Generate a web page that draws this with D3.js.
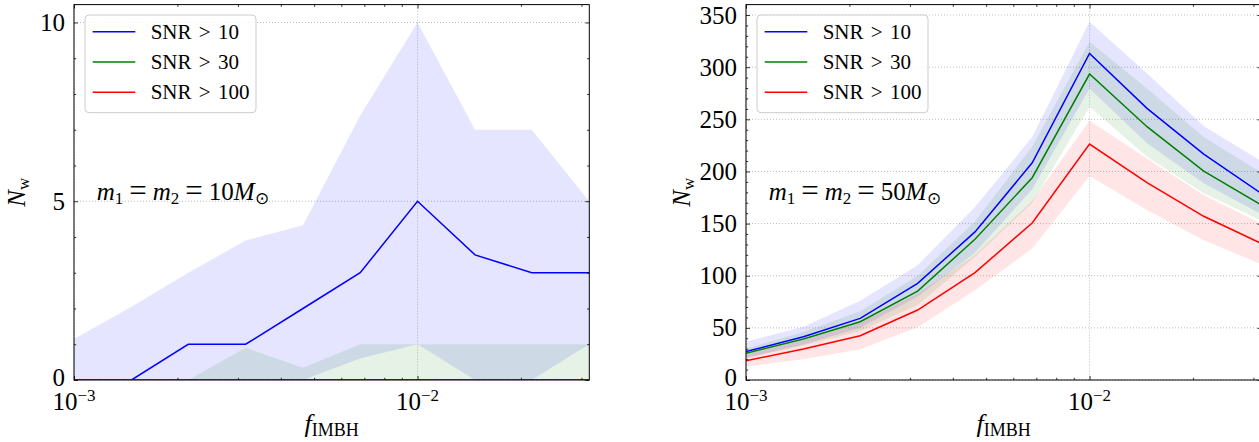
<!DOCTYPE html>
<html><head><meta charset="utf-8">
<script src="https://cdn.jsdelivr.net/npm/d3@7"></script>
<style>
html,body{margin:0;padding:0;background:#fff;}
svg{display:block;}
</style></head>
<body><svg id="c" width="1259" height="442"></svg>
<script>
// ---------- data ----------
const fIMBH = [0.001, 0.00147, 0.00215, 0.00316, 0.00464, 0.00681, 0.01, 0.0147, 0.0215, 0.0316];
const seriesNames = ["SNR > 10", "SNR > 30", "SNR > 100"];
const seriesColors = ["#0000ff", "#008000", "#ff0000"];

// left panel: m1 = m2 = 10 Msun
const left_snr10 = [0, 0, 1, 1, 2, 3, 5, 3.5, 3, 3];
const left_snr10_lo = [0, 0, 0, 0, 0, 0.6, 1, 0, 0, 1];
const left_snr10_hi = [1.15, 2.05, 3.0, 3.9, 4.33, 7.4, 10, 7, 7, 5];
const left_snr30 = [0, 0, 0, 0, 0, 0, 0, 0, 0, 0];
const left_snr30_lo = [0, 0, 0, 0, 0, 0, 0, 0, 0, 0];
const left_snr30_hi = [0, 0, 0, 0.9, 0.34, 1, 1, 1, 1, 1];
const left_snr100 = [0, 0, 0, 0, 0, 0, 0, 0, 0, 0];
const left_snr100_lo = [0, 0, 0, 0, 0, 0, 0, 0, 0, 0];
const left_snr100_hi = [0, 0, 0, 0, 0, 0, 0, 0, 0, 0];

// right panel: m1 = m2 = 50 Msun
const right_snr10 = [27.2, 41.5, 59.1, 92.7, 142, 208.3, 313.2, 260.5, 216.7, 179];
const right_snr10_lo = [21, 34, 50, 80, 122, 183, 279.6, 227, 188.6, 159];
const right_snr10_hi = [36.7, 51, 76, 110, 166, 233, 343.5, 294, 243.5, 210];
const right_snr30 = [25.6, 39.3, 55.9, 85.3, 135, 194, 293.4, 242.9, 200.4, 168];
const right_snr30_lo = [21, 33, 47, 72, 118, 170, 262, 214, 179, 153];
const right_snr30_hi = [30, 46, 66, 100, 152, 224, 324.3, 279.6, 233, 199];
const right_snr100 = [18.5, 29.7, 42.5, 67.1, 103, 150.5, 226.3, 189.2, 157, 131];
const right_snr100_lo = [12.8, 19.8, 29.4, 50.5, 86, 126, 195.6, 163, 134, 111];
const right_snr100_hi = [25, 38, 55, 83, 120, 172, 248.6, 212.5, 177.4, 150];

const xDomain = [0.001, 0.0316228];
const xMajorTicks = [0.001, 0.01];
const xMajorExp = ["−3", "−2"];
const xMinorTicks = [0.002, 0.003, 0.004, 0.005, 0.006, 0.007, 0.008, 0.009, 0.02, 0.03];

const leftYMax = 10.5, leftYMajor = [0, 5, 10], leftYMinor = [1,2,3,4,6,7,8,9];
const rightYMax = 360, rightYMajor = [0, 50, 100, 150, 200, 250, 300, 350];
const rightYMinor = [10,20,30,40,60,70,80,90,110,120,130,140,160,170,180,190,210,220,230,240,260,270,280,290,310,320,330,340];

// ---------- drawing ----------
const FONT = "'Liberation Serif', 'Times New Roman', serif";
const svg = d3.select("#c");

function drawPanel(id, px0, px1, yMax, yMajor, yMinor, mid, lo, hi, massLabel, yLabelX) {
  const top = 4.6, bottom = 380;
  const x = d3.scaleLog().domain(xDomain).range([px0, px1]);
  const y = d3.scaleLinear().domain([0, yMax]).range([bottom, top]);
  const g = svg.append("g");

  g.append("clipPath").attr("id", "clip" + id).append("rect")
    .attr("x", px0).attr("y", top).attr("width", px1 - px0).attr("height", bottom - top);

  // grid
  const grid = g.append("g").attr("stroke", "#aaaaaa").attr("stroke-width", 0.8)
    .attr("stroke-dasharray", "1,2");
  grid.selectAll("line.gy").data(yMajor).join("line")
    .attr("x1", px0).attr("x2", px1).attr("y1", d => y(d)).attr("y2", d => y(d));
  grid.selectAll("line.gx").data(xMajorTicks).join("line")
    .attr("x1", d => x(d)).attr("x2", d => x(d)).attr("y1", top).attr("y2", bottom);

  const plot = g.append("g").attr("clip-path", `url(#clip${id})`);
  const area = (l, h) => d3.area().x((d, i) => x(fIMBH[i])).y0((d, i) => y(l[i])).y1((d, i) => y(h[i]))(fIMBH);
  const line = (m) => d3.line().x((d, i) => x(fIMBH[i])).y((d, i) => y(m[i]))(fIMBH);
  for (let k = 0; k < 3; k++) {
    plot.append("path").attr("d", area(lo[k], hi[k]))
      .attr("fill", seriesColors[k]).attr("fill-opacity", 0.1);
  }
  for (let k = 0; k < 3; k++) {
    plot.append("path").attr("d", line(mid[k]))
      .attr("fill", "none").attr("stroke", seriesColors[k]).attr("stroke-width", 1.5);
  }

  // ticks (inward, all four sides)
  const bot = g.append("g").attr("transform", `translate(0,${bottom})`);
  bot.call(d3.axisBottom(x).tickValues(xMajorTicks).tickSize(-4).tickSizeOuter(0).tickFormat(""));
  const botMin = g.append("g").attr("transform", `translate(0,${bottom})`);
  botMin.call(d3.axisBottom(x).tickValues(xMinorTicks).tickSize(-2.2).tickSizeOuter(0).tickFormat(""));
  const tp = g.append("g").attr("transform", `translate(0,${top})`);
  tp.call(d3.axisTop(x).tickValues(xMajorTicks).tickSize(-4).tickSizeOuter(0).tickFormat(""));
  const tpMin = g.append("g").attr("transform", `translate(0,${top})`);
  tpMin.call(d3.axisTop(x).tickValues(xMinorTicks).tickSize(-2.2).tickSizeOuter(0).tickFormat(""));

  const lf = g.append("g").attr("transform", `translate(${px0},0)`);
  lf.call(d3.axisLeft(y).tickValues(yMajor).tickSize(-4).tickSizeOuter(0).tickPadding(9).tickFormat(d3.format("d")));
  const lfMin = g.append("g").attr("transform", `translate(${px0},0)`);
  lfMin.call(d3.axisLeft(y).tickValues(yMinor).tickSize(-2.2).tickSizeOuter(0).tickFormat(""));
  const rt = g.append("g").attr("transform", `translate(${px1},0)`);
  rt.call(d3.axisRight(y).tickValues(yMajor).tickSize(-4).tickSizeOuter(0).tickFormat(""));
  const rtMin = g.append("g").attr("transform", `translate(${px1},0)`);
  rtMin.call(d3.axisRight(y).tickValues(yMinor).tickSize(-2.2).tickSizeOuter(0).tickFormat(""));

  g.selectAll(".domain").remove();
  g.selectAll(".tick line").attr("stroke", "#000").attr("stroke-width", 0.8);
  lf.selectAll(".tick text").attr("font-size", 25).attr("fill", "#000")
    .attr("dy", d => d === 0 ? "0.22em" : "0.32em");

  // x tick labels with superscripts
  xMajorTicks.forEach((t, i) => {
    const tx = g.append("text").attr("x", x(t)).attr("y", 410).attr("text-anchor", "middle")
      .attr("font-size", 25).attr("fill", "#000");
    tx.append("tspan").text("10");
    tx.append("tspan").attr("font-size", 17).attr("dy", -9).text(xMajorExp[i]);
  });

  // spines
  g.append("rect").attr("x", px0).attr("y", top).attr("width", px1 - px0).attr("height", bottom - top)
    .attr("fill", "none").attr("stroke", "#000").attr("stroke-width", 1);

  // axis labels
  const xl = g.append("text").attr("x", (px0 + px1) / 2).attr("y", 432).attr("text-anchor", "middle")
    .attr("font-size", 26).attr("fill", "#000");
  xl.append("tspan").attr("font-style", "italic").text("f");
  xl.append("tspan").attr("font-size", 18).attr("dy", 4).text("IMBH");

  const yl = g.append("text").attr("transform", `translate(${yLabelX},${(top + bottom) / 2}) rotate(-90)`)
    .attr("text-anchor", "middle").attr("font-size", 25).attr("fill", "#000");
  yl.append("tspan").attr("font-style", "italic").text("N");
  yl.append("tspan").attr("font-size", 17).attr("dy", 4).text("w");

  // annotation
  const an = g.append("text").attr("x", px0 + 22.7).attr("y", 200)
    .attr("font-size", 25).attr("fill", "#000");
  an.append("tspan").attr("font-style", "italic").text("m");
  an.append("tspan").attr("font-size", 17).attr("dy", 4).text("1");
  an.append("tspan").attr("dy", -3).attr("dx", 6).attr("font-size", 31).text("=");
  an.append("tspan").attr("dy", -1).attr("dx", 6).attr("font-style", "italic").text("m");
  an.append("tspan").attr("font-size", 17).attr("dy", 4).text("2");
  an.append("tspan").attr("dy", -3).attr("dx", 6).attr("font-size", 31).text("=");
  an.append("tspan").attr("dy", -1).attr("dx", 6).text(massLabel);
  an.append("tspan").attr("font-style", "italic").text("M");
  an.append("tspan").attr("font-size", 17).attr("dy", 4).text("⊙");

  // legend
  const lg = g.append("g").attr("transform", `translate(${px0 + 11},15)`);
  lg.append("rect").attr("width", 171).attr("height", 97.7).attr("rx", 4)
    .attr("fill", "#fff").attr("fill-opacity", 0.8).attr("stroke", "#cccccc").attr("stroke-width", 1);
  seriesNames.forEach((nm, k) => {
    const yy = 16.7 + k * 30.3;
    lg.append("line").attr("x1", 7.7).attr("x2", 50.3).attr("y1", yy).attr("y2", yy)
      .attr("stroke", seriesColors[k]).attr("stroke-width", 1.5);
    lg.append("text").attr("x", 65.7).attr("y", yy + 7)
      .attr("font-size", 21).attr("fill", "#000").attr("word-spacing", 2).text(nm);
  });
}

drawPanel("L", 74, 589.3, leftYMax, leftYMajor, leftYMinor,
  [left_snr10, left_snr30, left_snr100],
  [left_snr10_lo, left_snr30_lo, left_snr100_lo],
  [left_snr10_hi, left_snr30_hi, left_snr100_hi], "10", 25);
drawPanel("R", 746, 1261.3, rightYMax, rightYMajor, rightYMinor,
  [right_snr10, right_snr30, right_snr100],
  [right_snr10_lo, right_snr30_lo, right_snr100_lo],
  [right_snr10_hi, right_snr30_hi, right_snr100_hi], "50", 690);

svg.selectAll("text").style("font-family", FONT);
</script></body></html>
